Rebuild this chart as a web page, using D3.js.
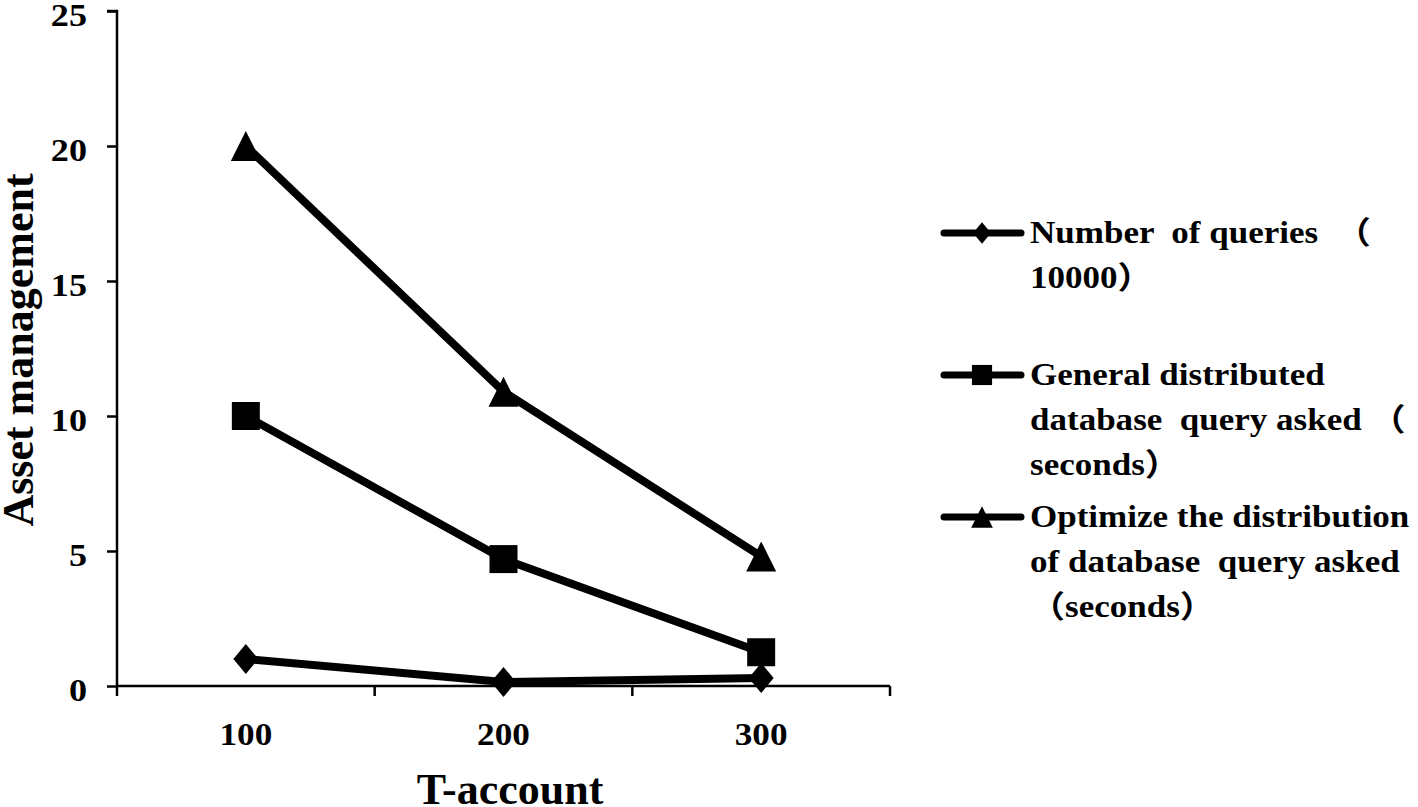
<!DOCTYPE html>
<html>
<head>
<meta charset="utf-8">
<script src="https://cdn.jsdelivr.net/npm/d3@7"></script>
<style>
	body { margin: 0; background: #fff; }
	svg text { font-family: "Liberation Serif", "Times New Roman", "Noto Sans CJK SC", serif; font-weight: bold; fill: #000; }
</style>
</head>
<body>
<svg id="viz_area" width="1418" height="807"></svg>
<script>
const categories = [100, 200, 300];
const queries = [1.0, 0.15, 0.3];
const general = [10.0, 4.7, 1.25];
const optimized = [20.0, 10.9, 4.8];
const yTicks = [0, 5, 10, 15, 20, 25];
const seriesNames = [
	['Number  of queries  （', '10000）'],
	['General distributed', 'database  query asked （', 'seconds）'],
	['Optimize the distribution', 'of database  query asked', '（seconds）']
];

//marker shapes, size = scale factor
const diamond = { draw(ctx, s) { ctx.moveTo(0, -15 * s); ctx.lineTo(12.5 * s, 0); ctx.lineTo(0, 15 * s); ctx.lineTo(-12.5 * s, 0); ctx.closePath(); } };
const square = { draw(ctx, s) { ctx.rect(-14 * s, -14 * s, 28 * s, 28 * s); } };
const triangle = { draw(ctx, s) { ctx.moveTo(0, -15 * s); ctx.lineTo(15 * s, 15 * s); ctx.lineTo(-15 * s, 15 * s); ctx.closePath(); } };
const symbols = [diamond, square, triangle];

let svg = d3.select('#viz_area');

let x = d3.scaleBand().domain(categories).range([ 117, 890 ]).padding(0);
let y = d3.scaleLinear().domain([ 0, 25 ]).range([ 686, 11 ]);

//text that is a bit wider than the font draws it
function wideText(parent, tx, ty, str, size, sx, anchor) {
	return parent.append('text')
		.attr('transform', 'translate(' + tx + ',' + ty + ') scale(' + sx + ',1)')
		.attr('text-anchor', anchor)
		.style('font-size', size + 'px')
		.style('white-space', 'pre')
		.text(str);
}

//y axis
let yAxis = svg.append('g').attr('transform', 'translate(117,0)')
	.call(d3.axisLeft(y).tickValues(yTicks).tickSize(10).tickPadding(0));
yAxis.selectAll('text').remove();
yAxis.selectAll('.tick').each(function(d) {
	wideText(d3.select(this), -30, 14, d, 32, 1.13, 'end');
});
yAxis.selectAll('line, path').attr('stroke', '#000').attr('stroke-width', 2.5);
yAxis.select('.domain').attr('d', 'M-10,' + y(25) + 'H0V' + y(0));

//x axis line, ticks at the band edges
svg.append('line').attr('x1', 117).attr('x2', 890).attr('y1', y(0)).attr('y2', y(0))
	.attr('stroke', '#000').attr('stroke-width', 2.5);
let edges = categories.map((c) => x(c)).concat([ x(categories[categories.length - 1]) + x.bandwidth() ]);
svg.selectAll('.xtick').data(edges).enter().append('line')
	.attr('x1', (d) => d).attr('x2', (d) => d)
	.attr('y1', y(0)).attr('y2', y(0) + 10)
	.attr('stroke', '#000').attr('stroke-width', 2.5);
categories.forEach(function(c) {
	wideText(svg, x(c) + x.bandwidth() / 2, 745, c, 32, 1.1, 'middle');
});

//axis titles
svg.append('text').attr('x', 510).attr('y', 804).attr('text-anchor', 'middle')
	.style('font-size', '44px').text('T-account');
svg.append('text').attr('transform', 'translate(33,350) rotate(-90)').attr('text-anchor', 'middle')
	.style('font-size', '44px').text('Asset management');

//series lines and markers
let allSeries = [ queries, general, optimized ];
let lineFunction = d3.line()
	.x(function(d, i) {
		return x(categories[i]) + x.bandwidth() / 2;
	})
	.y(function(d) {
		return y(d);
	});

allSeries.forEach(function(values, s) {
	svg.append('path').attr('d', lineFunction(values))
		.attr('fill', 'none').attr('stroke', '#000').attr('stroke-width', 8);
	svg.selectAll('.m' + s).data(values).enter().append('path')
		.attr('d', d3.symbol().type(symbols[s]).size(1))
		.attr('transform', (d, i) => 'translate(' + (x(categories[i]) + x.bandwidth() / 2) + ',' + y(d) + ')')
		.attr('fill', '#000');
});

//legend
let legendY = [ 233, 375, 517 ];
seriesNames.forEach(function(lines, s) {
	let g = svg.append('g').attr('transform', 'translate(0,' + legendY[s] + ')');
	g.append('line').attr('x1', 944).attr('x2', 1021).attr('y1', 0).attr('y2', 0)
		.attr('stroke', '#000').attr('stroke-width', 7).attr('stroke-linecap', 'round');
	g.append('path').attr('d', d3.symbol().type(symbols[s]).size(0.72))
		.attr('transform', 'translate(982,0)').attr('fill', '#000');
	lines.forEach(function(t, k) {
		wideText(g, 1030, k * 45 + 10, t, 31, 1.13, 'start');
	});
});
</script>
</body>
</html>
